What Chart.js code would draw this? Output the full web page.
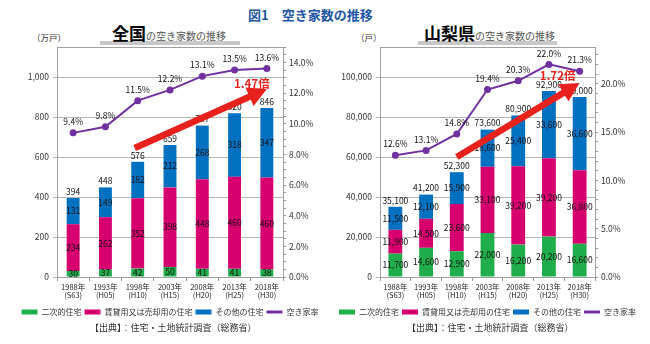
<!DOCTYPE html>
<html>
<head>
<meta charset="utf-8">
<script src="https://cdn.jsdelivr.net/npm/chart.js@4.4.0/dist/chart.umd.min.js"></script>
<style>
body { margin: 0; width: 650px; height: 344px; position: relative; background: #fff; overflow: hidden;
       font-family: "Noto Sans CJK JP", sans-serif; }
.abs { position: absolute; white-space: nowrap; }
#title { top: 5px; left: 248px; font-size: 13px; font-weight: bold; color: #1f57a4; }
.bar { position: absolute; top: 41px; height: 4px; background: #c8c8c8; }
.sub { top: 22px; height: 22px; line-height: 22px; font-size: 10px; color: #555; }
.sub b { font-size: 17px; color: #000; }
.unit { top: 31px; font-size: 8.5px; color: #333; }
.src { top: 321px; font-size: 9px; color: #333; }
.box { position: absolute; top: 0; }
</style>
</head>
<body>
<div id="title" class="abs">図1　空き家数の推移</div>

<div class="bar" style="left:100px;width:140px"></div>
<div class="abs sub" style="left:112px"><b>全国</b>の空き家数の推移</div>
<div class="abs unit" style="left:32px">（万戸）</div>

<div class="bar" style="left:418px;width:139px"></div>
<div class="abs sub" style="left:424px"><b>山梨県</b>の空き家数の推移</div>
<div class="abs unit" style="left:356px">（戸）</div>

<div class="box" style="left:15px"><canvas id="zenkoku" width="310" height="326"></canvas></div>
<div class="box" style="left:325px"><canvas id="yamanashi" width="325" height="326"></canvas></div>

<div class="abs src" style="left:90px">【出典】：住宅・土地統計調査（総務省）</div>
<div class="abs src" style="left:407px">【出典】：住宅・土地統計調査（総務省）</div>

<script>
// categories
const years = [['1988年', '(S63)'], ['1993年', '(H05)'], ['1998年', '(H10)'], ['2003年', '(H15)'],
               ['2008年', '(H20)'], ['2013年', '(H25)'], ['2018年', '(H30)']];
const seriesNames = ['二次的住宅', '賃貸用又は売却用の住宅', 'その他の住宅', '空き家率'];

// 全国 (万戸)
const zenkokuSecond = [30, 37, 42, 50, 41, 41, 38];
const zenkokuRental = [234, 262, 352, 398, 448, 460, 460];
const zenkokuOther  = [131, 149, 182, 212, 268, 318, 347];
const zenkokuTotal  = [394, 448, 576, 659, 757, 820, 846];
const zenkokuRate   = [9.4, 9.8, 11.5, 12.2, 13.1, 13.5, 13.6];
const zenkokuCountTicks = [0, 200, 400, 600, 800, 1000];
const zenkokuRateTicks  = [0, 2, 4, 6, 8, 10, 12, 14];

// 山梨県 (戸)
const yamaSecond = [11700, 14600, 12900, 22000, 16200, 20200, 16600];
const yamaRental = [11900, 14500, 23600, 33100, 39200, 39200, 36800];
const yamaOther  = [11500, 12100, 15900, 18600, 25400, 33600, 36600];
const yamaTotal  = [35100, 41200, 52300, 73600, 80900, 92900, 90000];
const yamaRate   = [12.6, 13.1, 14.8, 19.4, 20.3, 22.0, 21.3];
const yamaCountTicks = [0, 20000, 40000, 60000, 80000, 100000];
const yamaRateTicks  = [0, 5, 10, 15, 20];

const colors = ['#1fae4b', '#d6006f', '#0070c0', '#7030a0'];
const FONT = '"Noto Sans CJK JP", sans-serif';
const fmtNum = v => v.toLocaleString('en-US');

function makeChart(id, c) {
  // labels, rate text, arrow and chart frame
  const extras = {
    id: 'extras',
    afterDatasetsDraw(chart) {
      const ctx = chart.ctx, a = chart.chartArea;
      const x = chart.scales.x, y = chart.scales.y;
      ctx.save();
      ctx.strokeStyle = '#a0a0a0';
      ctx.lineWidth = 1;
      ctx.strokeRect(a.left + 0.5, a.top + 0.5, a.right - a.left, a.bottom - a.top);

      ctx.font = '8.5px ' + FONT;
      ctx.fillStyle = '#111';
      ctx.textAlign = 'center';
      ctx.textBaseline = 'middle';
      [0, 1, 2].forEach(i => {
        chart.getDatasetMeta(i).data.forEach((bar, j) => {
          ctx.fillText(fmtNum(chart.data.datasets[i].data[j]), bar.x, (bar.y + bar.base) / 2);
        });
      });
      chart.getDatasetMeta(2).data.forEach((bar, j) => {
        ctx.fillText(fmtNum(c.total[j]), bar.x, bar.y - 6.5);
      });
      chart.getDatasetMeta(3).data.forEach((pt, j) => {
        ctx.fillText(c.rate[j].toFixed(1) + '%', pt.x, pt.y - 11);
      });

      // growth arrow
      const x0 = x.getPixelForValue(c.arrow.from[0]) + c.arrow.from[2];
      const y0 = y.getPixelForValue(c.arrow.from[1]);
      const x1 = x.getPixelForValue(c.arrow.to[0]);
      const y1 = y.getPixelForValue(c.arrow.to[1]);
      const ang = Math.atan2(y1 - y0, x1 - x0);
      const len = Math.hypot(x1 - x0, y1 - y0);
      const hw = 3.3, hl = 19, hh = 10;
      ctx.translate(x0, y0);
      ctx.rotate(ang);
      ctx.beginPath();
      ctx.moveTo(0, -hw);
      ctx.lineTo(len - hl, -hw);
      ctx.lineTo(len - hl, -hh);
      ctx.lineTo(len, 0);
      ctx.lineTo(len - hl, hh);
      ctx.lineTo(len - hl, hw);
      ctx.lineTo(0, hw);
      ctx.closePath();
      ctx.fillStyle = '#e8211d';
      ctx.fill();
      ctx.setTransform(1, 0, 0, 1, 0, 0);
      ctx.font = 'bold 11.5px ' + FONT;
      ctx.fillStyle = '#e8211d';
      ctx.fillText(c.arrow.label, x1 + c.arrow.dx, y1 + c.arrow.dy);
      ctx.restore();
    }
  };

  const rateMinor = [];
  for (let i = 0; i * c.rateStep <= c.rateMax; i++) rateMinor.push(i * c.rateStep);

  return new Chart(document.getElementById(id), {
    data: {
      labels: years,
      datasets: [
        { type: 'bar', label: seriesNames[0], data: c.second, backgroundColor: colors[0], yAxisID: 'y' },
        { type: 'bar', label: seriesNames[1], data: c.rental, backgroundColor: colors[1], yAxisID: 'y' },
        { type: 'bar', label: seriesNames[2], data: c.other, backgroundColor: colors[2], yAxisID: 'y' },
        { type: 'line', label: seriesNames[3], data: c.rate, yAxisID: 'y1', order: -1,
          borderColor: colors[3], backgroundColor: colors[3], borderWidth: 2,
          pointRadius: 3.5, pointBackgroundColor: colors[3], pointBorderWidth: 0, tension: 0 }
      ]
    },
    options: {
      responsive: false,
      animation: false,
      layout: { padding: { top: 47, left: 0, right: 0, bottom: 0 } },
      datasets: { bar: { barPercentage: c.barPct, categoryPercentage: 1 } },
      scales: {
        x: {
          stacked: true,
          grid: { drawOnChartArea: false, tickLength: 4, color: '#999' },
          border: { color: '#999' },
          ticks: { padding: 3, color: '#222', font: { family: FONT, size: 7.5, lineHeight: 0.95 }, maxRotation: 0 },
          afterFit: s => { s.height = 28; }
        },
        y: {
          stacked: true, min: 0, max: c.countMax,
          afterBuildTicks: s => { s.ticks = c.countTicks.map(v => ({ value: v })); },
          grid: { color: '#b5b5b5', tickLength: 4 },
          border: { color: '#999' },
          ticks: { padding: 4, color: '#333', font: { family: FONT, size: 8.5 }, callback: v => fmtNum(v) },
          afterFit: s => { s.width = c.leftW; }
        },
        y1: {
          position: 'right', min: 0, max: c.rateMax,
          afterBuildTicks: s => { s.ticks = rateMinor.map(v => ({ value: v })); },
          grid: { drawOnChartArea: false, tickLength: 3, color: '#999' },
          border: { color: '#999' },
          ticks: { autoSkip: false, padding: 3, color: '#333', font: { family: FONT, size: 8.5 },
                   callback: v => c.rateTicks.includes(v) ? v.toFixed(1) + '%' : '' },
          afterFit: s => { s.width = c.rightW; }
        }
      },
      plugins: {
        tooltip: { enabled: false },
        legend: {
          position: 'bottom',
          labels: {
            usePointStyle: true, pointStyleWidth: 16, boxHeight: 5, padding: 3,
            color: '#333', font: { family: FONT, size: 8 },
            generateLabels: chart => {
              const items = Chart.defaults.plugins.legend.labels.generateLabels(chart);
              items.sort((p, q) => p.datasetIndex - q.datasetIndex);
              items.forEach(it => {
                if (it.datasetIndex === 3) { it.pointStyle = 'line'; it.lineWidth = 3; it.strokeStyle = colors[3]; }
                else { it.pointStyle = 'rect'; it.lineWidth = 0; }
              });
              return items;
            }
          }
        }
      }
    },
    plugins: [extras]
  });
}

makeChart('zenkoku', {
  second: zenkokuSecond, rental: zenkokuRental, other: zenkokuOther, total: zenkokuTotal, rate: zenkokuRate,
  countMax: 1150, countTicks: zenkokuCountTicks, rateMax: 15, rateStep: 0.5, rateTicks: zenkokuRateTicks,
  leftW: 42, rightW: 42, barPct: 0.4,
  arrow: { from: [2, 645, -3], to: [6, 940], label: '1.47倍', dx: -15, dy: -5 }
});

makeChart('yamanashi', {
  second: yamaSecond, rental: yamaRental, other: yamaOther, total: yamaTotal, rate: yamaRate,
  countMax: 115000, countTicks: yamaCountTicks, rateMax: 23.8, rateStep: 1, rateTicks: yamaRateTicks,
  leftW: 55, rightW: 55, barPct: 0.45,
  arrow: { from: [2, 60000, 0], to: [6, 97000], label: '1.72倍', dx: -22, dy: -7 }
});
</script>
</body>
</html>
